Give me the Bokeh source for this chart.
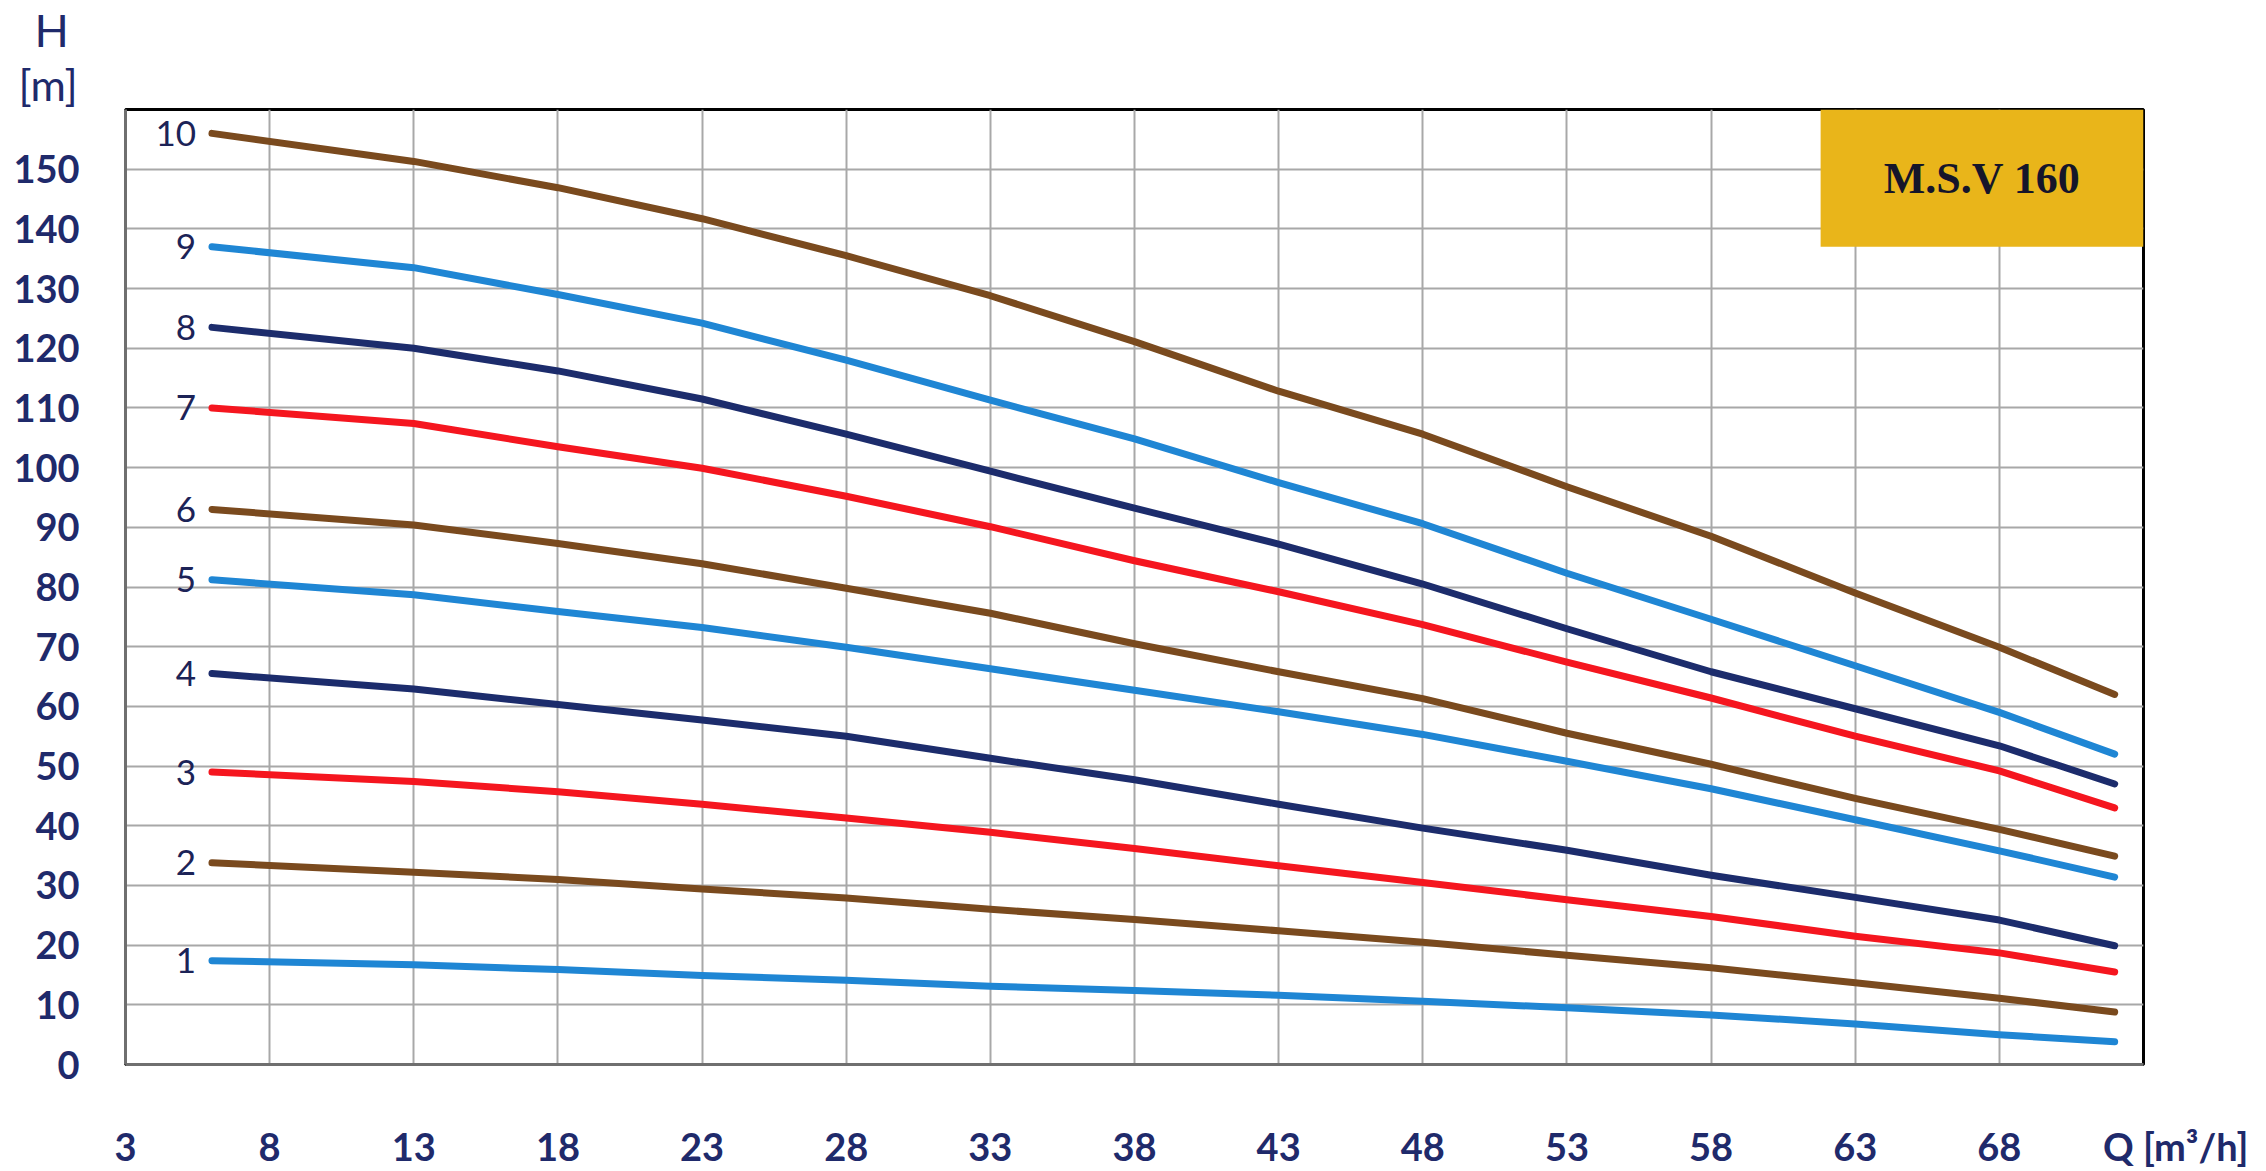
from bokeh.plotting import figure
from bokeh.models import ColumnDataSource, FixedTicker, Label, BoxAnnotation, Range1d, Title
from bokeh.core.properties import value
from bokeh.embed import file_html
from bokeh.resources import INLINE

# Flow rate Q [m3/h]
Q = [6, 13, 18, 23, 28, 33, 38, 43, 48, 53, 58, 63, 68, 72]

# Head H [m] per number of stages
H1 = [17.4, 16.7, 15.9, 14.9, 14.1, 13.1, 12.4, 11.6, 10.6, 9.5, 8.3, 6.8, 5.0, 3.8]
H2 = [33.8, 32.2, 31.0, 29.4, 27.9, 26.0, 24.3, 22.4, 20.5, 18.3, 16.2, 13.7, 11.1, 8.8]
H3 = [49.0, 47.4, 45.7, 43.6, 41.3, 38.9, 36.2, 33.3, 30.5, 27.6, 24.8, 21.5, 18.7, 15.5]
H4 = [65.5, 62.9, 60.3, 57.7, 55.0, 51.3, 47.7, 43.6, 39.6, 35.9, 31.7, 28.0, 24.2, 19.9]
H5 = [81.2, 78.7, 75.9, 73.2, 69.9, 66.3, 62.7, 59.1, 55.3, 50.8, 46.2, 41.0, 35.8, 31.4]
H6 = [93.0, 90.4, 87.3, 83.9, 79.8, 75.6, 70.5, 65.8, 61.3, 55.5, 50.3, 44.6, 39.4, 34.9]
H7 = [110.0, 107.4, 103.5, 99.9, 95.2, 90.1, 84.4, 79.2, 73.7, 67.4, 61.4, 55.0, 49.2, 43.0]
H8 = [123.5, 120.0, 116.2, 111.5, 105.6, 99.4, 93.2, 87.2, 80.5, 73.0, 65.8, 59.6, 53.4, 47.0]
H9 = [137.0, 133.5, 129.0, 124.2, 118.0, 111.3, 104.8, 97.5, 90.6, 82.3, 74.6, 66.8, 59.0, 52.0]
H10 = [156.0, 151.3, 146.9, 141.7, 135.5, 128.8, 121.1, 112.8, 105.6, 96.8, 88.5, 79.0, 69.9, 62.0]

stages = ["1", "2", "3", "4", "5", "6", "7", "8", "9", "10"]
heads = [H1, H2, H3, H4, H5, H6, H7, H8, H9, H10]

x_ticks = [3, 8, 13, 18, 23, 28, 33, 38, 43, 48, 53, 58, 63, 68]
y_ticks = [0, 10, 20, 30, 40, 50, 60, 70, 80, 90, 100, 110, 120, 130, 140, 150]
q_title = "Q [m³/h]"

BROWN = "#7a4a1e"
LBLUE = "#1f86d4"
NAVY = "#1c2c6c"
RED = "#f5161f"
colors = [LBLUE, BROWN, RED, NAVY, LBLUE, BROWN, RED, NAVY, LBLUE, BROWN]
TXT = "#1f2a6b"

p = figure(width=2266, height=1171,
           x_range=Range1d(3, 73), y_range=Range1d(0, 160),
           output_backend="svg", toolbar_location=None,
           min_border_left=125, min_border_top=108, min_border_right=123, min_border_bottom=97)

p.background_fill_color = "white"
p.border_fill_color = "white"
p.outline_line_color = "black"
p.outline_line_width = 3

for ax in (p.xaxis[0], p.yaxis[0]):
    ax.axis_line_color = "#6f6f6f"
    ax.axis_line_width = 3
    ax.major_tick_line_color = None
    ax.minor_tick_line_color = None
    ax.major_label_text_font = "Lato"
    ax.major_label_text_font_style = "bold"
    ax.major_label_text_font_size = "38px"
    ax.major_label_text_color = TXT

# x axis: numeric ticks plus the unit title at the right end of the axis
p.xaxis.ticker = FixedTicker(ticks=x_ticks + [73])
p.xaxis.major_label_overrides = {73: "\u00a0" * 7 + q_title}
p.yaxis.ticker = FixedTicker(ticks=y_ticks)
p.xaxis.major_label_standoff = 52
p.yaxis.major_label_standoff = 40

p.xgrid.ticker = FixedTicker(ticks=x_ticks)
p.ygrid.ticker = FixedTicker(ticks=y_ticks)
for g in (p.xgrid[0], p.ygrid[0]):
    g.grid_line_color = "#a8a8a8"
    g.grid_line_width = 2
    g.grid_line_alpha = 1

for h, c in zip(heads, colors):
    p.line(Q, h, line_color=c, line_width=7, line_cap="round", line_join="round")

src = ColumnDataSource(dict(x=[Q[0]] * len(stages), y=[h[0] for h in heads], t=stages))
p.text(x="x", y="y", text="t", source=src, x_offset=-16, text_align="right",
       text_baseline="middle", text_font=value("Lato"), text_font_size="35px",
       text_color="#1c2357")

# Model box
p.add_layout(BoxAnnotation(left=61.8, right=73, bottom=137, top=160,
                           fill_color="#e9b51a", fill_alpha=1, line_alpha=0))
p.add_layout(Label(x=67.4, y=148.5, text="M.S.V 160", text_align="center",
                   text_baseline="middle", text_font="Liberation Serif",
                   text_font_style="bold", text_font_size="44px", text_color="#15152a"))

# Y axis title "H [m]" above the axis, left of the frame
p.add_layout(Title(text="[m]", align="left", offset=-107, standoff=0,
                   text_font="Lato", text_font_style="normal", text_font_size="43px",
                   text_color=TXT), "above")
p.add_layout(Title(text="H", align="left", offset=-91, standoff=0,
                   text_font="Lato", text_font_style="normal", text_font_size="45px",
                   text_color=TXT), "above")

open("out.html", "w").write(file_html(p, INLINE))
